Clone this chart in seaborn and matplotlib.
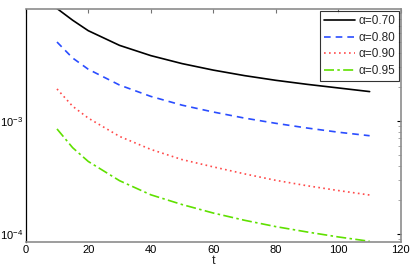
import numpy as np
import pandas as pd
import matplotlib
matplotlib.use("Agg")
import matplotlib.pyplot as plt
import matplotlib.ticker as mticker
import seaborn as sns

# valores
t = [10, 15, 20, 30, 40, 50, 60, 70, 80, 90, 100, 110]
a070 = [9.9e-3, 7.8e-3, 6.3e-3, 4.67e-3, 3.79e-3, 3.22e-3, 2.82e-3, 2.52e-3, 2.29e-3, 2.11e-3, 1.96e-3, 1.82e-3]
a080 = [5.0e-3, 3.61e-3, 2.87e-3, 2.08e-3, 1.65e-3, 1.38e-3, 1.2e-3, 1.06e-3, 9.53e-4, 8.66e-4, 7.95e-4, 7.4e-4]
a090 = [1.92e-3, 1.35e-3, 1.06e-3, 7.3e-4, 5.6e-4, 4.55e-4, 3.92e-4, 3.4e-4, 2.98e-4, 2.67e-4, 2.42e-4, 2.21e-4]
a095 = [8.5e-4, 5.8e-4, 4.38e-4, 2.96e-4, 2.22e-4, 1.82e-4, 1.53e-4, 1.32e-4, 1.16e-4, 1.04e-4, 9.4e-5, 8.6e-5]
labels = ["α=0.70", "α=0.80", "α=0.90", "α=0.95"]
xticks = [0, 20, 40, 60, 80, 100, 120]

sns.set_style("white")
plt.rcParams["font.family"] = ["Liberation Sans", "DejaVu Sans"]
plt.rcParams["mathtext.default"] = "regular"

fig = plt.figure(figsize=(4.15, 2.73), dpi=100)
ax = fig.add_axes([0.062, 0.114, 0.904, 0.853])

series = [a070, a080, a090, a095]
colors = ["black", "#2a4dff", "#ff4a4a", "#5fe000"]
styles = ["-", (0, (4, 3)), (0, (1, 2)), (0, (6, 2, 1.5, 2))]
for y, lab, c, ls in zip(series, labels, colors, styles):
    df = pd.DataFrame({"t": t, "y": y})
    sns.lineplot(data=df, x="t", y="y", ax=ax, color=c, linestyle=ls,
                 linewidth=1.2, label=lab)

ax.set_yscale("log")
ax.set_xlim(0, 120)
ax.set_ylim(8.5e-5, 9.8e-3)
ax.set_xticks(xticks)
ax.yaxis.set_major_locator(mticker.FixedLocator([1e-4, 1e-3]))
ax.yaxis.set_minor_locator(mticker.LogLocator(base=10, subs=np.arange(2, 10)))
ax.yaxis.set_minor_formatter(mticker.NullFormatter())
ax.tick_params(which="both", direction="in", top=True, right=True,
               labelsize=8, colors="black", pad=2)
ax.tick_params(which="major", length=3, color="0.45")
ax.tick_params(which="minor", length=2, color="0.6")
ax.tick_params(axis="y", which="major", color="black")
ax.set_xlabel("t", fontsize=9, labelpad=0)
ax.set_ylabel("")

for side in ["top", "bottom", "right"]:
    ax.spines[side].set_color("0.55")
    ax.spines[side].set_linewidth(1.2)
ax.spines["left"].set_color("black")
ax.spines["left"].set_linewidth(0.9)

leg = ax.legend(loc="upper right", fontsize=8.5, frameon=True, fancybox=False,
                borderaxespad=0.2, handlelength=2.6, handletextpad=0.3,
                labelspacing=0.4, borderpad=0.3)
leg.get_frame().set_edgecolor("black")
leg.get_frame().set_linewidth(0.8)

fig.savefig("out.png", dpi=100)
